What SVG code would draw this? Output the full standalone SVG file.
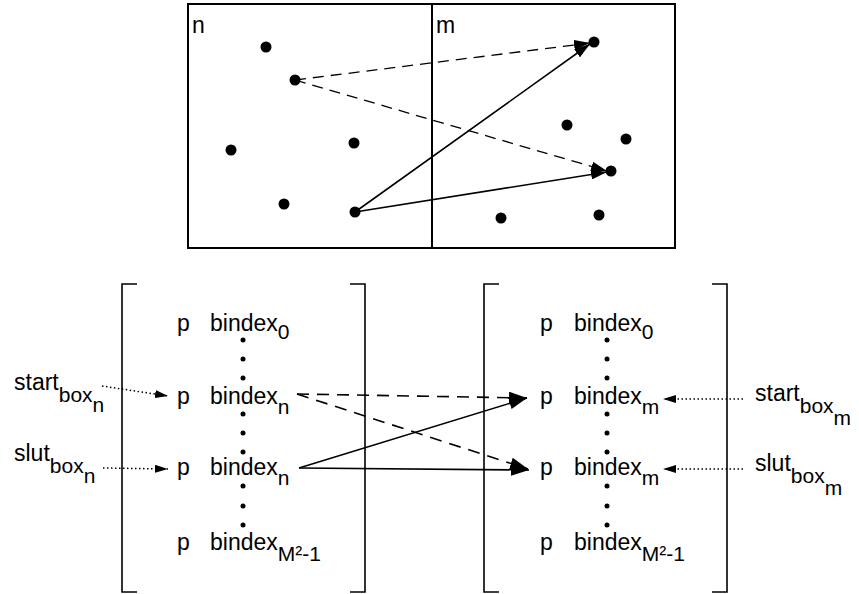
<svg xmlns="http://www.w3.org/2000/svg" width="859" height="594" viewBox="0 0 859 594">
<defs>
<style>
text{font-family:"Liberation Sans",Arial,sans-serif;fill:#000}
.t{font-size:23px}
.s{font-size:21px}
.box{fill:none;stroke:#000;stroke-width:2}
.br{fill:none;stroke:#000;stroke-width:1.6}
.pt{fill:#000}
.sd{fill:#000}
.solid{stroke:#000;stroke-width:1.6;fill:none}
.dash{stroke:#000;stroke-width:1.6;fill:none;stroke-dasharray:12 8}
.dash2{stroke:#000;stroke-width:1.3;fill:none;stroke-dasharray:11 7}
.dot{stroke:#000;stroke-width:1.5;fill:none;stroke-dasharray:1.5 2.5}
</style>
<marker id="ah" viewBox="0 0 18 12" refX="18" refY="6" markerWidth="18" markerHeight="12" markerUnits="userSpaceOnUse" orient="auto">
<path d="M0,0 L18,6 L0,12 Z" fill="#000"/>
</marker>
<marker id="aht" viewBox="0 0 16 10" refX="16" refY="5" markerWidth="16" markerHeight="10" markerUnits="userSpaceOnUse" orient="auto">
<path d="M0,0 L16,5 L0,10 Z" fill="#000"/>
</marker>
<marker id="ahs" viewBox="0 0 13 8" refX="13" refY="4" markerWidth="13" markerHeight="8" markerUnits="userSpaceOnUse" orient="auto">
<path d="M0,0 L13,4 L0,8 Z" fill="#000"/>
</marker>
</defs>

<g id="grid">
<rect class="box" x="188" y="4" width="487" height="244"/>
<line class="box" x1="432" y1="4" x2="432" y2="248"/>
<text class="t" x="192" y="33">n</text>
<text class="t" x="436" y="33">m</text>
</g>

<g id="particles">
<circle class="pt" cx="266" cy="47" r="5.5"/>
<circle class="pt" cx="295" cy="80" r="5.5"/>
<circle class="pt" cx="231" cy="150" r="5.5"/>
<circle class="pt" cx="354" cy="143" r="5.5"/>
<circle class="pt" cx="284" cy="204" r="5.5"/>
<circle class="pt" cx="355" cy="212" r="5.5"/>
<circle class="pt" cx="594" cy="42" r="5.5"/>
<circle class="pt" cx="567" cy="125" r="5.5"/>
<circle class="pt" cx="626" cy="139" r="5.5"/>
<circle class="pt" cx="611" cy="171" r="5.5"/>
<circle class="pt" cx="501" cy="218" r="5.5"/>
<circle class="pt" cx="599" cy="215" r="5.5"/>
</g>

<g id="array-n">
<path class="br" d="M137,284 H122 V592 H137"/>
<path class="br" d="M350,284 H365 V592 H350"/>
<text class="t" x="177" y="331">p</text>
<text class="t" x="210" y="331">bindex<tspan class="s" dy="8">0</tspan></text>
<text class="t" x="177" y="404">p</text>
<text class="t" x="210" y="404">bindex<tspan class="s" dy="10">n</tspan></text>
<text class="t" x="177" y="475">p</text>
<text class="t" x="210" y="475">bindex<tspan class="s" dy="10">n</tspan></text>
<text class="t" x="177" y="550">p</text>
<text class="t" x="210" y="550">bindex<tspan class="s" dy="11">M²-1</tspan></text>
<circle class="sd" cx="243" cy="340" r="2.5"/>
<circle class="sd" cx="243" cy="359" r="2.5"/>
<circle class="sd" cx="243" cy="378" r="2.5"/>
<circle class="sd" cx="243" cy="414" r="2.5"/>
<circle class="sd" cx="243" cy="433" r="2.5"/>
<circle class="sd" cx="243" cy="452" r="2.5"/>
<circle class="sd" cx="243" cy="486" r="2.5"/>
<circle class="sd" cx="243" cy="506" r="2.5"/>
<circle class="sd" cx="243" cy="525" r="2.5"/>
</g>

<g id="array-m">
<path class="br" d="M499,284 H484 V592 H499"/>
<path class="br" d="M712,284 H727 V592 H712"/>
<text class="t" x="540" y="331">p</text>
<text class="t" x="574" y="331">bindex<tspan class="s" dy="8">0</tspan></text>
<text class="t" x="540" y="404">p</text>
<text class="t" x="574" y="404">bindex<tspan class="s" dy="10">m</tspan></text>
<text class="t" x="540" y="475">p</text>
<text class="t" x="574" y="475">bindex<tspan class="s" dy="10">m</tspan></text>
<text class="t" x="540" y="550">p</text>
<text class="t" x="574" y="550">bindex<tspan class="s" dy="11">M²-1</tspan></text>
<circle class="sd" cx="607" cy="340" r="2.5"/>
<circle class="sd" cx="607" cy="359" r="2.5"/>
<circle class="sd" cx="607" cy="378" r="2.5"/>
<circle class="sd" cx="607" cy="414" r="2.5"/>
<circle class="sd" cx="607" cy="433" r="2.5"/>
<circle class="sd" cx="607" cy="452" r="2.5"/>
<circle class="sd" cx="607" cy="486" r="2.5"/>
<circle class="sd" cx="607" cy="506" r="2.5"/>
<circle class="sd" cx="607" cy="525" r="2.5"/>
</g>

<g id="labels">
<text class="t" x="14" y="390">start<tspan class="s" dy="12">box</tspan><tspan class="s" dy="10">n</tspan></text>
<text class="t" x="14" y="461">slut<tspan class="s" dy="12">box</tspan><tspan class="s" dy="10">n</tspan></text>
<text class="t" x="755" y="401">start<tspan class="s" dy="12">box</tspan><tspan class="s" dy="12">m</tspan></text>
<text class="t" x="755" y="471">slut<tspan class="s" dy="12">box</tspan><tspan class="s" dy="12">m</tspan></text>
</g>

<g id="connectors">
<line class="dash2" x1="295" y1="80" x2="590" y2="43" marker-end="url(#aht)"/>
<line class="dash2" x1="295" y1="80" x2="607" y2="171" marker-end="url(#aht)"/>
<line class="solid" x1="355" y1="212" x2="590" y2="44" marker-end="url(#aht)"/>
<line class="solid" x1="355" y1="212" x2="607" y2="172" marker-end="url(#aht)"/>

<line class="dash" x1="297" y1="394" x2="527" y2="398" marker-end="url(#ah)"/>
<line class="dash" x1="297" y1="394" x2="528" y2="469" marker-end="url(#ah)"/>
<line class="solid" x1="299" y1="468" x2="527" y2="398" marker-end="url(#ah)"/>
<line class="solid" x1="299" y1="468" x2="529" y2="470" marker-end="url(#ah)"/>

<line class="dot" x1="102" y1="386" x2="168" y2="396" marker-end="url(#ahs)"/>
<line class="dot" x1="103" y1="468" x2="168" y2="469" marker-end="url(#ahs)"/>
<line class="dot" x1="743" y1="399" x2="663" y2="399" marker-end="url(#ahs)"/>
<line class="dot" x1="743" y1="469" x2="663" y2="469" marker-end="url(#ahs)"/>
</g>
</svg>
